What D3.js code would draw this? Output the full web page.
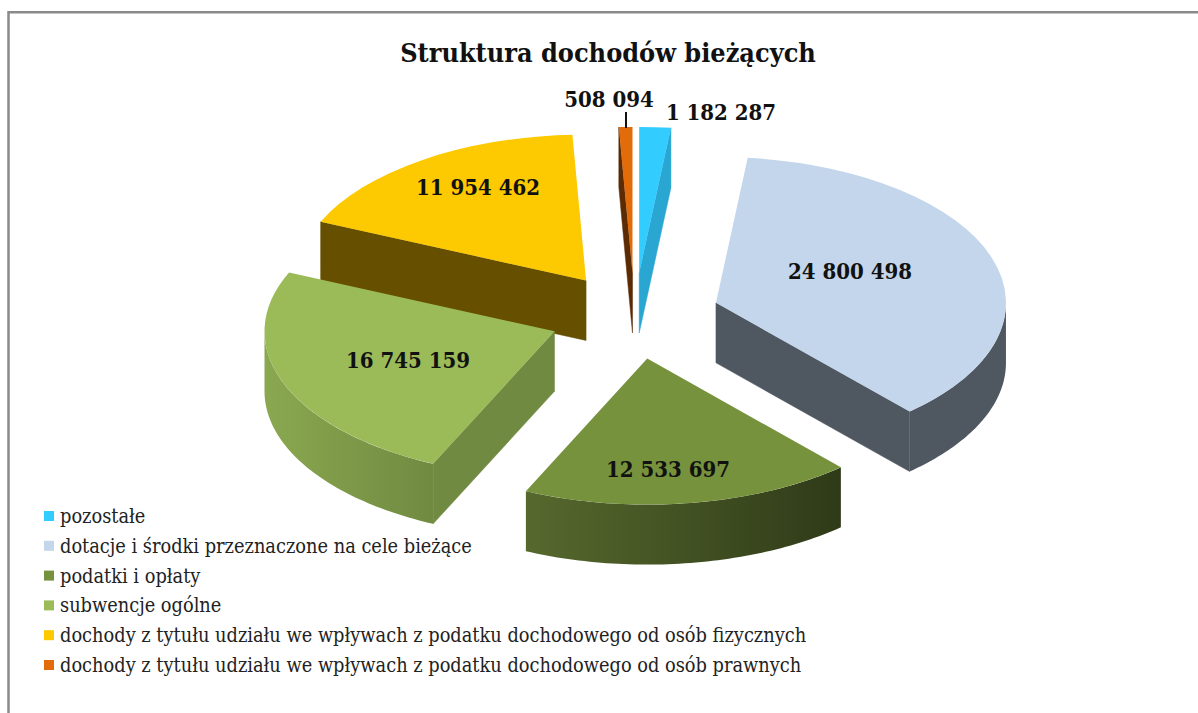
<!DOCTYPE html>
<html>
<head>
<meta charset="utf-8">
<script src="https://cdn.jsdelivr.net/npm/d3@7/dist/d3.min.js"></script>
<style>
	html, body { margin: 0; padding: 0; background: #fff; }
	svg { display: block; font-family: "DejaVu Serif Condensed", "DejaVu Serif", serif; }
</style>
</head>
<body>
<svg width="1198" height="713"></svg>
<script>
/** Values **/
var categories = [
	"pozostałe",
	"dotacje i środki przeznaczone na cele bieżące",
	"podatki i opłaty",
	"subwencje ogólne",
	"dochody z tytułu udziału we wpływach z podatku dochodowego od osób fizycznych",
	"dochody z tytułu udziału we wpływach z podatku dochodowego od osób prawnych"
];
var values = [1182287, 24800498, 12533697, 16745159, 11954462, 508094];
var title_text = "Struktura dochodów bieżących";

/** Colours, same order as the categories **/
var top_colors = ["#33ccff", "#c3d6ec", "#76923c", "#9bbb59", "#fdc900", "#e36c0a"];
var side_colors = ["#29a6d2", "#4f5761", "#5a7030", "#718a41", "#665000", "#5b2b04"];
var outer_left_colors = ["#29a6d2", "#4f5761", "#56692d", "#8aa850", "#665000", "#5b2b04"];
var outer_right_colors = ["#29a6d2", "#4f5761", "#2f3a18", "#718a41", "#665000", "#5b2b04"];

/** Centre of each value label, and where the pie sits **/
var label_pos = [[721, 120], [850, 279], [668, 477], [408, 368], [478, 195], [609, 107]];
var center = {x: 634.5, y: 316};
var radius_x = 290, radius_y = 146, depth = 60, explode = 0.295;

var svg = d3.select("svg");
var format_value = d3.formatLocale({decimal: ",", thousands: " ", grouping: [3], currency: ["", ""]}).format(",d");
var line = d3.line();

/** Angle is clockwise from the top, in radians. Returns the point on the top face of a slice **/
function rim_point(apex, angle){
	return [apex.x + radius_x * Math.sin(angle), apex.y - radius_y * Math.cos(angle)];
}

function drop(p){
	return [p[0], p[1] + depth];
}

/** Wall between the apex and the rim at one angle **/
function side_wall(apex, angle){
	var a = [apex.x, apex.y], b = rim_point(apex, angle);
	return line([a, b, drop(b), drop(a)]) + "Z";
}

/** Curved wall, only the part facing the viewer (90 to 270 degrees) **/
function outer_wall(apex, from, to){
	var n = 60;
	var top_edge = d3.range(n + 1).map((i) => rim_point(apex, from + (to - from) * i / n));
	return line(top_edge.concat(top_edge.slice().reverse().map(drop))) + "Z";
}

/** Draws the slices back to front **/
function draw_pie(){
	var slices = d3.pie().sort(null).value((d) => d)(values);
	var arc = d3.arc().innerRadius(0).outerRadius(radius_x);
	var defs = svg.append("defs");

	slices.forEach((d) => {
		var mid = (d.startAngle + d.endAngle) / 2;
		d.apex = {
			x: center.x + explode * radius_x * Math.sin(mid),
			y: center.y - explode * radius_y * Math.cos(mid)
		};
	});

	slices.slice().sort((a, b) => a.apex.y - b.apex.y).forEach((d) => {
		var i = d.index;
		var g = svg.append("g").attr("class", "slice");

		var from = Math.max(d.startAngle, Math.PI / 2);
		var to = Math.min(d.endAngle, Math.PI * 1.5);
		if(to > from){
			var grad = defs.append("linearGradient").attr("id", "outer" + i);
			grad.append("stop").attr("offset", 0).attr("stop-color", outer_left_colors[i]);
			grad.append("stop").attr("offset", 1).attr("stop-color", outer_right_colors[i]);
			g.append("path").attr("d", outer_wall(d.apex, from, to)).attr("fill", "url(#outer" + i + ")");
		}

		// start edge faces the viewer on the left half, end edge on the right half
		// thin stroke hides the seam against the curved wall
		if(Math.sin(d.startAngle) < -1e-6){
			g.append("path").attr("d", side_wall(d.apex, d.startAngle))
				.attr("fill", side_colors[i]).attr("stroke", side_colors[i]).attr("stroke-width", 0.5);
		}
		if(Math.sin(d.endAngle) > 1e-6){
			g.append("path").attr("d", side_wall(d.apex, d.endAngle))
				.attr("fill", side_colors[i]).attr("stroke", side_colors[i]).attr("stroke-width", 0.5);
		}

		g.append("path")
			.attr("d", arc(d))
			.attr("transform", "translate(" + d.apex.x + "," + d.apex.y + ") scale(1," + (radius_y / radius_x) + ")")
			.attr("fill", top_colors[i]);
	});
}

function draw_labels(){
	svg.selectAll("text.value")
		.data(values)
		.enter()
		.append("text")
			.attr("class", "value")
			.attr("x", (d, i) => label_pos[i][0])
			.attr("y", (d, i) => label_pos[i][1])
			.attr("text-anchor", "middle")
			.attr("font-size", 22)
			.attr("font-weight", "bold")
			.attr("fill", "#111")
			.text((d) => format_value(d));

	//leader for the smallest slice
	svg.append("line")
		.attr("x1", 626).attr("x2", 626)
		.attr("y1", 112).attr("y2", 128)
		.attr("stroke", "#111")
		.attr("stroke-width", 2);
}

function draw_legend(){
	var y = d3.scalePoint().domain(categories).range([516, 665]);

	var rows = svg.selectAll("g.legend")
		.data(categories)
		.enter()
		.append("g")
			.attr("class", "legend")
			.attr("transform", (d) => "translate(44," + y(d) + ")");

	rows.append("rect")
		.attr("x", 0).attr("y", -5)
		.attr("width", 10).attr("height", 10)
		.attr("fill", (d, i) => top_colors[i]);

	rows.append("text")
		.attr("x", 16).attr("y", 7)
		.attr("font-size", 19.8)
		.attr("fill", "#222")
		.text((d) => d);
}

function draw_frame(){
	svg.append("path")
		.attr("d", "M8.5,713V12.3H1198")
		.attr("fill", "none")
		.attr("stroke", "#8a8a8a")
		.attr("stroke-width", 2.5);

	svg.append("text")
		.attr("x", 608).attr("y", 62)
		.attr("text-anchor", "middle")
		.attr("font-size", 26.8)
		.attr("font-weight", "bold")
		.attr("fill", "#111")
		.text(title_text);
}

draw_frame();
draw_pie();
draw_labels();
draw_legend();
</script>
</body>
</html>
